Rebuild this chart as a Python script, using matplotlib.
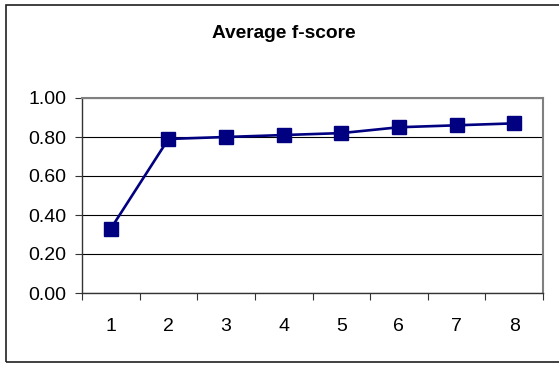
import matplotlib.pyplot as plt
from matplotlib.patches import Rectangle
from matplotlib.ticker import FixedLocator, NullFormatter

# Average f-score per run
runs = [1, 2, 3, 4, 5, 6, 7, 8]
fscore = [0.33, 0.79, 0.80, 0.81, 0.82, 0.85, 0.86, 0.87]
yticks = [0.0, 0.2, 0.4, 0.6, 0.8, 1.0]

plt.rcParams['font.family'] = ['Liberation Sans', 'DejaVu Sans']

W, H = 559, 365
fig = plt.figure(figsize=(W / 100, H / 100), dpi=100)

# outer chart frame (right edge runs off the image)
fig.patches.append(Rectangle((6 / W, 1 - 362 / H), 600 / W, (362 - 5) / H,
                             transform=fig.transFigure, fill=False,
                             edgecolor='#202020', linewidth=1.2))

left, top, right, bottom = 82, 98, 543, 293
ax = fig.add_axes([left / W, 1 - bottom / H, (right - left) / W, (bottom - top) / H])

ax.plot(runs, fscore, color='#000080', linewidth=1.9, marker='s',
        markersize=10.5, markerfacecolor='#000080', markeredgecolor='#000080',
        zorder=3, clip_on=False)

ax.set_xlim(0.5, 8.5)
ax.set_ylim(0, 1)

# y axis: labels with outward ticks, black gridlines
ax.set_yticks(yticks)
ax.set_yticklabels([f'{v:.2f}' for v in yticks])
ax.grid(axis='y', color='black', linewidth=0.8)
ax.tick_params(axis='y', direction='out', length=5, width=0.8,
               labelsize=14, pad=6, color='#333333')

# x axis: ticks between categories, labels centered on them
ax.xaxis.set_major_locator(FixedLocator([i + 0.5 for i in range(0, 9)]))
ax.xaxis.set_major_formatter(NullFormatter())
ax.xaxis.set_minor_locator(FixedLocator(runs))
ax.set_xticklabels([str(r) for r in runs], minor=True)
ax.tick_params(axis='x', which='major', direction='out', length=5, width=0.8,
               color='#333333')
ax.tick_params(axis='x', which='minor', length=0, labelsize=14, pad=18)

for side in ('top', 'right'):
    ax.spines[side].set_color('#808080')
    ax.spines[side].set_linewidth(1.5)
for side in ('left', 'bottom'):
    ax.spines[side].set_color('#333333')
    ax.spines[side].set_linewidth(1.0)

fig.text(284 / W, 1 - 33 / H, 'Average f-score', ha='center', va='center',
         fontsize=13.8, fontweight='bold')

fig.savefig('out.png', dpi=100)
